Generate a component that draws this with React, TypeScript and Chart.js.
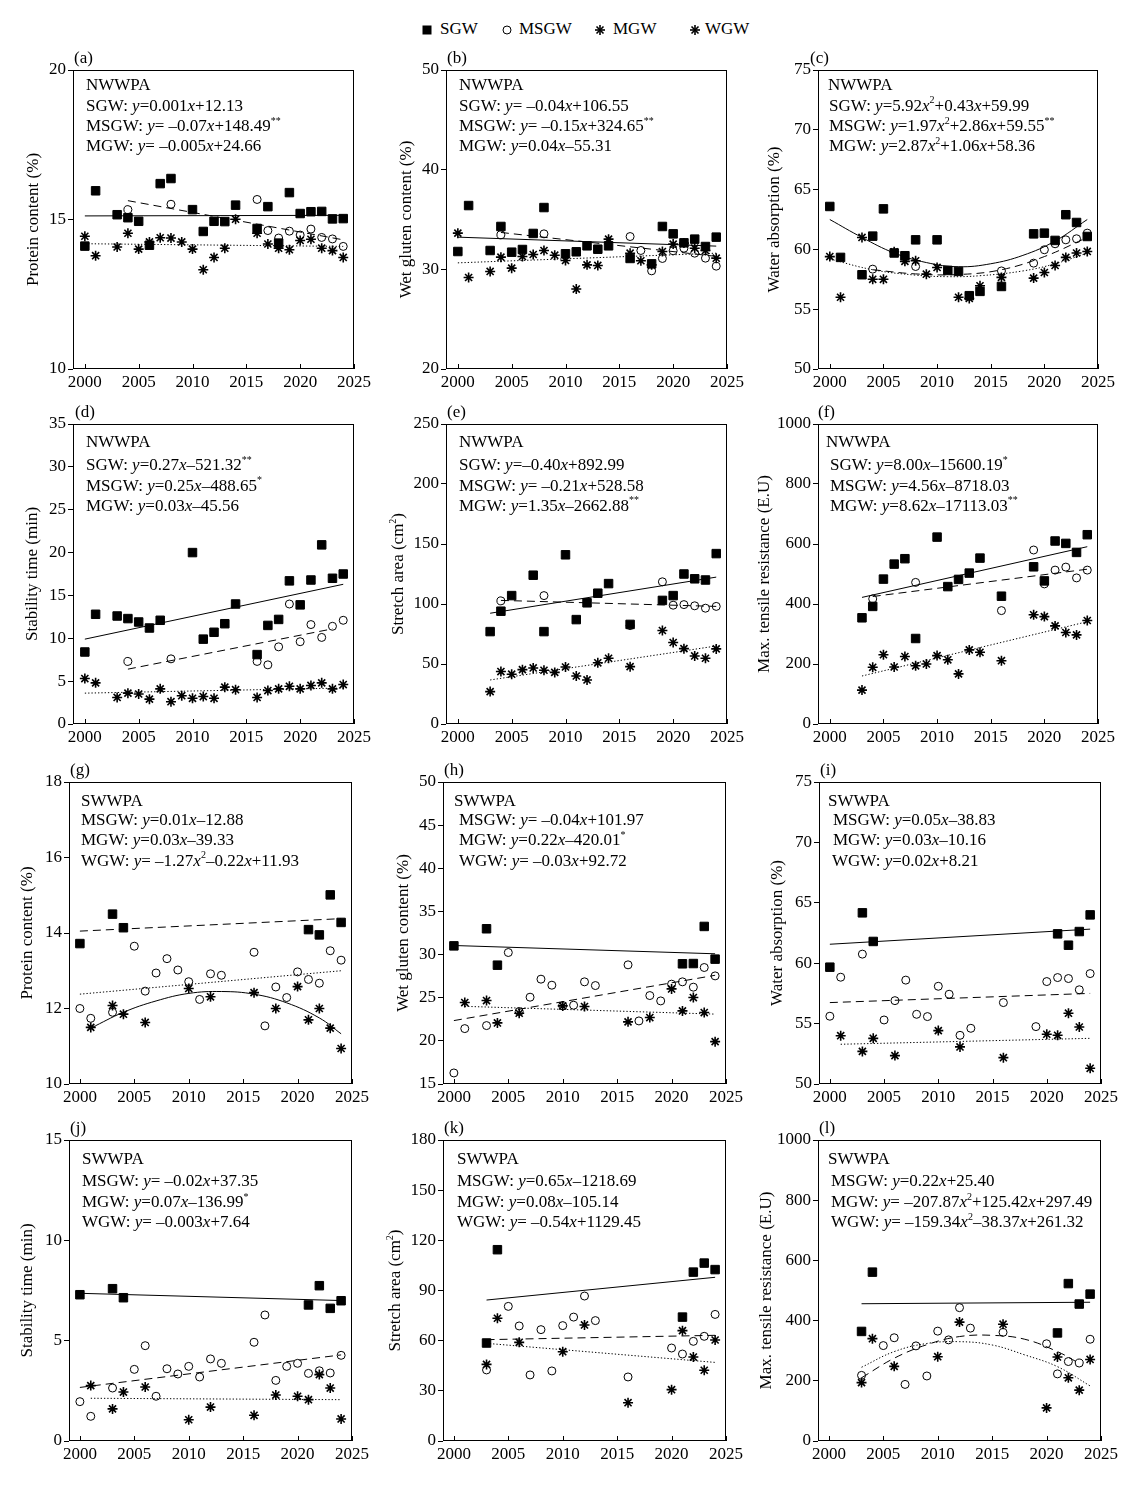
import React, { useEffect, useRef } from "react";
import { Chart, registerables } from "chart.js";
Chart.register(...registerables);

type Pt = [number, number];
const FONT = "'Liberation Serif', 'Times New Roman', Times, serif";
const FS = 17;

// ---------------- shared ticks / legend ----------------
const X_TICKS = [2000, 2005, 2010, 2015, 2020, 2025];
const LEGEND_LABELS = ["SGW", "MSGW", "MGW", "WGW"];

// ---------------- (a) protein, NWWPA ----------------
const A_SQ: Pt[] = [[2000,14.11],[2001,15.96],[2003,15.16],[2004,15.06],[2005,14.94],[2006,14.14],[2007,16.2],[2008,16.37],[2010,15.33],[2011,14.6],[2012,14.94],[2013,14.93],[2014,15.48],[2016,14.7],[2017,15.43],[2018,14.21],[2019,15.9],[2020,15.2],[2021,15.26],[2022,15.27],[2023,15.02],[2024,15.03]];
const A_CI: Pt[] = [[2004,15.33],[2008,15.51],[2016,15.67],[2017,14.63],[2018,14.38],[2019,14.61],[2020,14.48],[2021,14.68],[2022,14.4],[2023,14.35],[2024,14.1]];
const A_ST: Pt[] = [[2000,14.44],[2001,13.79],[2003,14.08],[2004,14.54],[2005,14.01],[2006,14.25],[2007,14.39],[2008,14.38],[2009,14.25],[2010,14.01],[2011,13.32],[2012,13.73],[2013,14.04],[2014,15.01],[2016,14.54],[2017,14.18],[2018,14.04],[2019,13.99],[2020,14.3],[2021,14.34],[2022,14.04],[2023,13.96],[2024,13.73]];
const A_SQ_FIT: Pt[] = [[2000,15.12],[2024,15.14]];
const A_CI_FIT: Pt[] = [[2004,15.63],[2024,14.32]];
const A_ST_FIT: Pt[] = [[2000,14.19],[2024,14.1]];
const A_YT = [10, 15, 20];

// ---------------- (b) wet gluten, NWWPA ----------------
const B_SQ: Pt[] = [[2000,31.79],[2001,36.4],[2003,31.89],[2004,34.3],[2005,31.72],[2006,31.99],[2007,33.6],[2008,36.2],[2010,31.56],[2011,31.76],[2012,32.36],[2013,32.02],[2014,32.36],[2016,31.09],[2018,30.55],[2019,34.3],[2020,33.56],[2021,32.66],[2022,33.03],[2023,32.29],[2024,33.23]];
const B_CI: Pt[] = [[2004,33.46],[2008,33.56],[2016,33.29],[2017,31.89],[2018,29.85],[2019,31.09],[2020,31.86],[2021,32.12],[2022,31.62],[2023,31.12],[2024,30.32]];
const B_ST: Pt[] = [[2000,33.63],[2001,29.18],[2003,29.79],[2004,31.22],[2005,30.12],[2006,31.29],[2007,31.49],[2008,31.89],[2009,31.42],[2010,30.89],[2011,28.02],[2012,30.45],[2013,30.39],[2014,33.03],[2016,31.62],[2017,30.86],[2018,30.45],[2019,31.79],[2020,32.53],[2021,32.63],[2022,32.12],[2023,31.89],[2024,31.12]];
const B_SQ_FIT: Pt[] = [[2000,33.23],[2024,32.33]];
const B_CI_FIT: Pt[] = [[2004,33.7],[2024,31.3]];
const B_ST_FIT: Pt[] = [[2000,30.65],[2024,31.62]];
const B_YT = [20, 30, 40, 50];

// ---------------- (c) water absorption, NWWPA ----------------
const C_SQ: Pt[] = [[2000,63.59],[2001,59.33],[2003,57.88],[2004,61.11],[2005,63.39],[2006,59.7],[2007,59.47],[2008,60.8],[2010,60.8],[2011,58.24],[2012,58.16],[2013,56.13],[2014,56.49],[2016,56.9],[2019,61.3],[2020,61.36],[2021,60.75],[2022,62.9],[2023,62.25],[2024,61.08]];
const C_CI: Pt[] = [[2004,58.35],[2008,58.57],[2016,58.2],[2019,58.85],[2020,59.97],[2021,60.47],[2022,60.8],[2023,60.89],[2024,61.36]];
const C_ST: Pt[] = [[2000,59.4],[2001,56.0],[2003,61.0],[2004,57.5],[2005,57.5],[2006,59.8],[2007,59.0],[2008,59.05],[2009,57.93],[2010,58.49],[2012,56.0],[2013,55.9],[2014,56.96],[2016,57.66],[2019,57.6],[2020,58.07],[2021,58.66],[2022,59.33],[2023,59.7],[2024,59.83]];
const C_SQ_FIT: Pt[] = [[2000,62.5],[2003,61.0],[2006,59.7],[2009,58.9],[2012,58.55],[2015,58.8],[2018,59.5],[2021,60.7],[2024,62.5]];
const C_CI_FIT: Pt[] = [[2004,58.3],[2008,57.95],[2012,57.9],[2016,58.3],[2020,59.4],[2024,61.0]];
const C_ST_FIT: Pt[] = [[2000,59.2],[2004,58.3],[2008,57.85],[2011,57.72],[2014,57.8],[2018,58.2],[2021,58.8],[2024,59.7]];
const C_YT = [50, 55, 60, 65, 70, 75];

// ---------------- (d) stability time, NWWPA ----------------
const D_SQ: Pt[] = [[2000,8.4],[2001,12.8],[2003,12.6],[2004,12.3],[2005,11.9],[2006,11.2],[2007,12.1],[2010,20.0],[2011,9.9],[2012,10.7],[2013,11.7],[2014,14.0],[2016,8.1],[2017,11.5],[2018,12.2],[2019,16.7],[2020,13.9],[2021,16.8],[2022,20.9],[2023,17.0],[2024,17.5]];
const D_CI: Pt[] = [[2004,7.3],[2008,7.6],[2016,7.3],[2017,6.9],[2018,9.0],[2019,14.0],[2020,9.6],[2021,11.6],[2022,10.1],[2023,11.4],[2024,12.1]];
const D_ST: Pt[] = [[2000,5.3],[2001,4.8],[2003,3.1],[2004,3.6],[2005,3.5],[2006,2.9],[2007,4.1],[2008,2.6],[2009,3.3],[2010,3.0],[2011,3.2],[2012,3.0],[2013,4.3],[2014,4.0],[2016,3.1],[2017,3.9],[2018,4.1],[2019,4.4],[2020,4.1],[2021,4.5],[2022,4.8],[2023,4.1],[2024,4.6]];
const D_SQ_FIT: Pt[] = [[2000,9.9],[2024,16.3]];
const D_CI_FIT: Pt[] = [[2004,6.4],[2023,11.1]];
const D_ST_FIT: Pt[] = [[2000,3.6],[2024,4.2]];
const D_YT = [0, 5, 10, 15, 20, 25, 30, 35];

// ---------------- (e) stretch area, NWWPA ----------------
const E_SQ: Pt[] = [[2003,77],[2004,94],[2005,107],[2007,124],[2008,77],[2010,141],[2011,87],[2012,101],[2013,109],[2014,117],[2016,83],[2019,103],[2020,107],[2021,125],[2022,121],[2023,120],[2024,142]];
const E_CI: Pt[] = [[2004,102.6],[2008,107],[2016,82],[2019,118.5],[2020,99],[2021,99.5],[2022,98.5],[2023,96.5],[2024,98]];
const E_ST: Pt[] = [[2003,27],[2004,43.7],[2005,41.5],[2006,45.3],[2007,46.7],[2008,44.8],[2009,43],[2010,47.5],[2011,40],[2012,36.7],[2013,51],[2014,54.8],[2016,47.8],[2019,77.9],[2020,67.9],[2021,62.8],[2022,56.7],[2023,54.8],[2024,62.6]];
const E_SQ_FIT: Pt[] = [[2003,92.3],[2024,122.4]];
const E_CI_FIT: Pt[] = [[2004,103],[2024,98]];
const E_ST_FIT: Pt[] = [[2003,36.7],[2024,65]];
const E_YT = [0, 50, 100, 150, 200, 250];

// ---------------- (f) max tensile resistance, NWWPA ----------------
const F_SQ: Pt[] = [[2003,354],[2004,392],[2005,483],[2006,533],[2007,551],[2008,285],[2010,623],[2011,458],[2012,482],[2013,503],[2014,553],[2016,426],[2019,524],[2020,477],[2021,610],[2022,602],[2023,572],[2024,631]];
const F_CI: Pt[] = [[2004,417],[2008,472],[2016,378],[2019,580],[2020,467],[2021,513],[2022,523],[2023,487],[2024,513]];
const F_ST: Pt[] = [[2003,113],[2004,189],[2005,231],[2006,190],[2007,225],[2008,194],[2009,200],[2010,228],[2011,214],[2012,167],[2013,247],[2014,239],[2016,211],[2019,364],[2020,358],[2021,327],[2022,305],[2023,297],[2024,345]];
const F_SQ_FIT: Pt[] = [[2003,422],[2024,591]];
const F_CI_FIT: Pt[] = [[2004,425],[2024,516]];
const F_ST_FIT: Pt[] = [[2003,160],[2024,341]];
const F_YT = [0, 200, 400, 600, 800, 1000];

// ---------------- (g) protein, SWWPA ----------------
const G_SQ: Pt[] = [[2000,13.72],[2003,14.5],[2004,14.14],[2021,14.09],[2022,13.95],[2023,15.01],[2024,14.28]];
const G_CI: Pt[] = [[2000,12.0],[2001,11.74],[2003,11.9],[2005,13.65],[2006,12.46],[2007,12.94],[2008,13.32],[2009,13.02],[2010,12.71],[2011,12.24],[2012,12.92],[2013,12.88],[2016,13.49],[2017,11.54],[2018,12.57],[2019,12.29],[2020,12.97],[2021,12.77],[2022,12.67],[2023,13.53],[2024,13.28]];
const G_ST: Pt[] = [[2001,11.5],[2003,12.08],[2004,11.85],[2006,11.63],[2010,12.53],[2012,12.31],[2016,12.42],[2018,12.0],[2020,12.58],[2021,11.7],[2022,12.0],[2023,11.48],[2024,10.94]];
const G_SQ_FIT: Pt[] = [[2000,14.05],[2024,14.38]];
const G_CI_FIT: Pt[] = [[2000,12.38],[2024,13.0]];
const G_ST_FIT: Pt[] = [[2001,11.48],[2004,11.9],[2007,12.2],[2010,12.4],[2013,12.45],[2016,12.38],[2019,12.15],[2022,11.75],[2024,11.33]];
const G_YT = [10, 12, 14, 16, 18];

// ---------------- (h) wet gluten, SWWPA ----------------
const H_SQ: Pt[] = [[2000,31.01],[2003,32.99],[2004,28.77],[2021,28.93],[2022,28.96],[2023,33.26],[2024,29.47]];
const H_CI: Pt[] = [[2000,16.28],[2001,21.42],[2003,21.77],[2005,30.24],[2006,23.4],[2007,25.06],[2008,27.15],[2009,26.45],[2010,24.05],[2011,24.13],[2012,26.84],[2013,26.41],[2016,28.81],[2017,22.31],[2018,25.25],[2019,24.63],[2020,26.57],[2021,26.84],[2022,26.22],[2023,28.5],[2024,27.53]];
const H_ST: Pt[] = [[2001,24.44],[2003,24.67],[2004,22.08],[2006,23.2],[2010,24.05],[2012,23.98],[2016,22.2],[2018,22.7],[2020,26.02],[2021,23.47],[2022,25.02],[2023,23.28],[2024,19.91]];
const H_SQ_FIT: Pt[] = [[2000,31.05],[2024,30.09]];
const H_CI_FIT: Pt[] = [[2000,22.35],[2024,27.6]];
const H_ST_FIT: Pt[] = [[2001,24.0],[2024,23.1]];
const H_YT = [15, 20, 25, 30, 35, 40, 45, 50];

// ---------------- (i) water absorption, SWWPA ----------------
const I_SQ: Pt[] = [[2000,59.67],[2003,64.17],[2004,61.8],[2021,62.43],[2022,61.49],[2023,62.62],[2024,64.0]];
const I_CI: Pt[] = [[2000,55.61],[2001,58.84],[2003,60.75],[2005,55.3],[2006,56.9],[2007,58.6],[2008,55.77],[2009,55.58],[2010,58.09],[2011,57.43],[2012,54.03],[2013,54.61],[2016,56.74],[2019,54.75],[2020,58.48],[2021,58.81],[2022,58.73],[2023,57.8],[2024,59.14]];
const I_ST: Pt[] = [[2001,54.0],[2003,52.7],[2004,53.78],[2006,52.35],[2010,54.42],[2012,53.07],[2016,52.18],[2020,54.12],[2021,54.03],[2022,55.86],[2023,54.72],[2024,51.3]];
const I_SQ_FIT: Pt[] = [[2000,61.57],[2024,62.82]];
const I_CI_FIT: Pt[] = [[2000,56.74],[2024,57.5]];
const I_ST_FIT: Pt[] = [[2001,53.29],[2024,53.78]];
const I_YT = [50, 55, 60, 65, 70, 75];

// ---------------- (j) stability time, SWWPA ----------------
const J_SQ: Pt[] = [[2000,7.29],[2003,7.59],[2004,7.14],[2021,6.78],[2022,7.74],[2023,6.61],[2024,6.99]];
const J_CI: Pt[] = [[2000,1.96],[2001,1.23],[2003,2.64],[2005,3.57],[2006,4.75],[2007,2.23],[2008,3.6],[2009,3.34],[2010,3.72],[2011,3.19],[2012,4.09],[2013,3.87],[2016,4.92],[2017,6.28],[2018,3.02],[2019,3.72],[2020,3.87],[2021,3.37],[2022,3.5],[2023,3.39],[2024,4.27]];
const J_ST: Pt[] = [[2001,2.76],[2003,1.6],[2004,2.44],[2006,2.69],[2010,1.06],[2012,1.69],[2016,1.28],[2018,2.29],[2020,2.23],[2021,2.06],[2022,3.31],[2023,2.64],[2024,1.1]];
const J_SQ_FIT: Pt[] = [[2000,7.36],[2024,7.0]];
const J_CI_FIT: Pt[] = [[2000,2.67],[2024,4.29]];
const J_ST_FIT: Pt[] = [[2001,2.13],[2024,2.06]];
const J_YT = [0, 5, 10, 15];

// ---------------- (k) stretch area, SWWPA ----------------
const K_SQ: Pt[] = [[2003,58.6],[2004,114.4],[2021,74.1],[2022,101],[2023,106.4],[2024,102.5]];
const K_CI: Pt[] = [[2003,42.5],[2005,80.5],[2006,68.8],[2007,39.5],[2008,66.6],[2009,41.9],[2010,69],[2011,74.1],[2012,86.7],[2013,72],[2016,38.3],[2020,55.6],[2021,52],[2022,59.6],[2023,62.6],[2024,75.7]];
const K_ST: Pt[] = [[2003,45.8],[2004,73.4],[2006,59],[2010,53.4],[2012,69.4],[2016,22.9],[2020,30.7],[2021,66],[2022,50.2],[2023,42.3],[2024,60.4]];
const K_SQ_FIT: Pt[] = [[2003,84.3],[2024,97.9]];
const K_CI_FIT: Pt[] = [[2003,60.6],[2024,63.2]];
const K_ST_FIT: Pt[] = [[2003,58.4],[2024,47]];
const K_YT = [0, 30, 60, 90, 120, 150, 180];

// ---------------- (l) max tensile resistance, SWWPA ----------------
const L_SQ: Pt[] = [[2003,364],[2004,561],[2021,359],[2022,523],[2023,455],[2024,488]];
const L_CI: Pt[] = [[2003,218],[2005,317],[2006,343],[2007,188],[2008,316],[2009,216],[2010,365],[2011,336],[2012,443],[2013,375],[2016,361],[2020,323],[2021,223],[2022,264],[2023,259],[2024,338]];
const L_ST: Pt[] = [[2003,194],[2004,340],[2006,248],[2010,280],[2012,395],[2016,388],[2020,110],[2021,279],[2022,210],[2023,169],[2024,271]];
const L_SQ_FIT: Pt[] = [[2003,456],[2024,461]];
const L_CI_FIT: Pt[] = [[2003,210],[2006,275],[2009,320],[2012,347],[2015,351],[2018,338],[2021,297],[2023,258]];
const L_ST_FIT: Pt[] = [[2003,245],[2006,297],[2009,324],[2012,330],[2015,319],[2018,286],[2021,247],[2024,183]];
const L_YT = [0, 200, 400, 600, 800, 1000];

// ---------------- texts ----------------
const Y_TITLES = ["Protein content (%)", "Wet gluten content (%)", "Water absorption (%)", "Stability time (min)", "Stretch area (cm{2})", "Max. tensile resistance (E.U)"];
const TXT_A = ["NWWPA", "SGW: [y]=0.001[x]+12.13", "MSGW: [y]= \u20130.07[x]+148.49{**}", "MGW: [y]= \u20130.005[x]+24.66"];
const TXT_B = ["NWWPA", "SGW: [y]= \u20130.04[x]+106.55", "MSGW: [y]= \u20130.15[x]+324.65{**}", "MGW: [y]=0.04[x]\u201355.31"];
const TXT_C = ["NWWPA", "SGW: [y]=5.92[x]{2}+0.43[x]+59.99", "MSGW: [y]=1.97[x]{2}+2.86[x]+59.55{**}", "MGW: [y]=2.87[x]{2}+1.06[x]+58.36"];
const TXT_D = ["NWWPA", "SGW: [y]=0.27[x]\u2013521.32{**}", "MSGW: [y]=0.25[x]\u2013488.65{*}", "MGW: [y]=0.03[x]\u201345.56"];
const TXT_E = ["NWWPA", "SGW: [y]=\u20130.40[x]+892.99", "MSGW: [y]= \u20130.21[x]+528.58", "MGW: [y]=1.35[x]\u20132662.88{**}"];
const TXT_F = ["NWWPA", "SGW: [y]=8.00[x]\u201315600.19{*}", "MSGW: [y]=4.56[x]\u20138718.03", "MGW: [y]=8.62[x]\u201317113.03{**}"];
const TXT_G = ["SWWPA", "MSGW: [y]=0.01[x]\u201312.88", "MGW: [y]=0.03[x]\u201339.33", "WGW: [y]= \u20131.27[x]{2}\u20130.22[x]+11.93"];
const TXT_H = ["SWWPA", "MSGW: [y]= \u20130.04[x]+101.97", "MGW: [y]=0.22[x]\u2013420.01{*}", "WGW: [y]= \u20130.03[x]+92.72"];
const TXT_I = ["SWWPA", "MSGW: [y]=0.05[x]\u201338.83", "MGW: [y]=0.03[x]\u201310.16", "WGW: [y]=0.02[x]+8.21"];
const TXT_J = ["SWWPA", "MSGW: [y]= \u20130.02[x]+37.35", "MGW: [y]=0.07[x]\u2013136.99{*}", "WGW: [y]= \u20130.003[x]+7.64"];
const TXT_K = ["SWWPA", "MSGW: [y]=0.65[x]\u20131218.69", "MGW: [y]=0.08[x]\u2013105.14", "WGW: [y]= \u20130.54[x]+1129.45"];
const TXT_L = ["SWWPA", "MSGW: [y]=0.22[x]+25.40", "MGW: [y]= \u2013207.87[x]{2}+125.42[x]+297.49", "WGW: [y]= \u2013159.34[x]{2}\u201338.37[x]+261.32"];

// ---------------- layout / styles ----------------
type Marker = "sq" | "ci" | "st";
type LineKind = "solid" | "dash" | "dot";
interface Series { marker: Marker; pts: Pt[]; fit: Pt[]; line: LineKind; curve?: boolean; }
interface PanelCfg {
  label: string; left: number; top: number; w: number; h: number;
  xMin: number; xMax: number; yMin: number; yMax: number; yTicks: number[];
  yTitle: string; titleOff: number; labelDx: number;
  text: string[]; textX: number[]; textY: number[];
  series: Series[];
}

const Y_AXIS_W = 72;
const PAD_T = 30;
const PAD_R = 22;
const X_AXIS_H = 36;

const TY1 = [16, 36.5, 57, 77];
const TY2 = [19, 42, 62.5, 82.5];
const TY3 = [19.5, 39, 59, 79.5];
const TY4 = [20, 42, 63, 83];

function s3(sq: Pt[], sqf: Pt[], sqL: LineKind, ci: Pt[], cif: Pt[], ciL: LineKind, st: Pt[], stf: Pt[], stL: LineKind, curves: [boolean, boolean, boolean] = [false, false, false]): Series[] {
  return [
    { marker: "sq", pts: sq, fit: sqf, line: sqL, curve: curves[0] },
    { marker: "ci", pts: ci, fit: cif, line: ciL, curve: curves[1] },
    { marker: "st", pts: st, fit: stf, line: stL, curve: curves[2] },
  ];
}

const R12 = { xMin: 1998.9, xMax: 2025 };
const R34 = { xMin: 1999.0, xMax: 2025 };

const PANELS: PanelCfg[] = [
  { label: "(a)", left: 73, top: 70, w: 281, h: 299, ...R12, yMin: 10, yMax: 20, yTicks: A_YT, yTitle: Y_TITLES[0], titleOff: 39, labelDx: 1, text: TXT_A, textX: [13, 13, 13, 13], textY: TY1, series: s3(A_SQ, A_SQ_FIT, "solid", A_CI, A_CI_FIT, "dash", A_ST, A_ST_FIT, "dot") },
  { label: "(b)", left: 446, top: 70, w: 281, h: 299, ...R12, yMin: 20, yMax: 50, yTicks: B_YT, yTitle: Y_TITLES[1], titleOff: 39, labelDx: 1, text: TXT_B, textX: [13, 13, 13, 13], textY: TY1, series: s3(B_SQ, B_SQ_FIT, "solid", B_CI, B_CI_FIT, "dash", B_ST, B_ST_FIT, "dot") },
  { label: "(c)", left: 818, top: 70, w: 280, h: 299, ...R12, yMin: 50, yMax: 75, yTicks: C_YT, yTitle: Y_TITLES[2], titleOff: 43, labelDx: -8, text: TXT_C, textX: [10, 11, 11, 11], textY: TY1, series: s3(C_SQ, C_SQ_FIT, "solid", C_CI, C_CI_FIT, "dash", C_ST, C_ST_FIT, "dot", [true, true, true]) },
  { label: "(d)", left: 73, top: 424, w: 281, h: 300, ...R12, yMin: 0, yMax: 35, yTicks: D_YT, yTitle: Y_TITLES[3], titleOff: 40, labelDx: 2, text: TXT_D, textX: [13, 13, 13, 13], textY: TY2, series: s3(D_SQ, D_SQ_FIT, "solid", D_CI, D_CI_FIT, "dash", D_ST, D_ST_FIT, "dot") },
  { label: "(e)", left: 446, top: 424, w: 281, h: 300, ...R12, yMin: 0, yMax: 250, yTicks: E_YT, yTitle: Y_TITLES[4], titleOff: 47, labelDx: 1, text: TXT_E, textX: [13, 13, 13, 13], textY: TY2, series: s3(E_SQ, E_SQ_FIT, "solid", E_CI, E_CI_FIT, "dash", E_ST, E_ST_FIT, "dot") },
  { label: "(f)", left: 818, top: 424, w: 280, h: 300, ...R12, yMin: 0, yMax: 1000, yTicks: F_YT, yTitle: Y_TITLES[5], titleOff: 53, labelDx: 0, text: TXT_F, textX: [8, 12, 12, 12], textY: TY2, series: s3(F_SQ, F_SQ_FIT, "solid", F_CI, F_CI_FIT, "dash", F_ST, F_ST_FIT, "dot") },
  { label: "(g)", left: 69, top: 782, w: 283, h: 302, ...R34, yMin: 10, yMax: 18, yTicks: G_YT, yTitle: Y_TITLES[0], titleOff: 41, labelDx: 1, text: TXT_G, textX: [12, 12, 12, 12], textY: TY3, series: s3(G_SQ, G_SQ_FIT, "dash", G_CI, G_CI_FIT, "dot", G_ST, G_ST_FIT, "solid", [false, false, true]) },
  { label: "(h)", left: 443, top: 782, w: 283, h: 302, ...R34, yMin: 15, yMax: 50, yTicks: H_YT, yTitle: Y_TITLES[1], titleOff: 39, labelDx: 1, text: TXT_H, textX: [11, 16, 16, 16], textY: TY3, series: s3(H_SQ, H_SQ_FIT, "solid", H_CI, H_CI_FIT, "dash", H_ST, H_ST_FIT, "dot") },
  { label: "(i)", left: 819, top: 782, w: 282, h: 302, ...R34, yMin: 50, yMax: 75, yTicks: I_YT, yTitle: Y_TITLES[2], titleOff: 41, labelDx: 1, text: TXT_I, textX: [9, 14, 14, 13], textY: TY3, series: s3(I_SQ, I_SQ_FIT, "solid", I_CI, I_CI_FIT, "dash", I_ST, I_ST_FIT, "dot") },
  { label: "(j)", left: 69, top: 1140, w: 283, h: 301, ...R34, yMin: 0, yMax: 15, yTicks: J_YT, yTitle: Y_TITLES[3], titleOff: 41, labelDx: 1, text: TXT_J, textX: [13, 13, 13, 13], textY: TY4, series: s3(J_SQ, J_SQ_FIT, "solid", J_CI, J_CI_FIT, "dash", J_ST, J_ST_FIT, "dot") },
  { label: "(k)", left: 443, top: 1140, w: 283, h: 301, ...R34, yMin: 0, yMax: 180, yTicks: K_YT, yTitle: Y_TITLES[4], titleOff: 47, labelDx: 1, text: TXT_K, textX: [14, 14, 14, 14], textY: TY4, series: s3(K_SQ, K_SQ_FIT, "solid", K_CI, K_CI_FIT, "dash", K_ST, K_ST_FIT, "dot") },
  { label: "(l)", left: 818, top: 1140, w: 283, h: 301, ...R34, yMin: 0, yMax: 1000, yTicks: L_YT, yTitle: Y_TITLES[5], titleOff: 51, labelDx: 1, text: TXT_L, textX: [10, 13, 13, 13], textY: TY4, series: s3(L_SQ, L_SQ_FIT, "solid", L_CI, L_CI_FIT, "dash", L_ST, L_ST_FIT, "dot", [false, true, true]) },
];

// ---------------- rich text ----------------
type Seg = { t: string; st: "n" | "i" | "s" };
function parseRich(s: string): Seg[] {
  const out: Seg[] = [];
  let buf = "";
  let i = 0;
  while (i < s.length) {
    const c = s[i];
    if (c === "[" || c === "{") {
      if (buf) out.push({ t: buf, st: "n" });
      buf = "";
      const close = c === "[" ? "]" : "}";
      const j = s.indexOf(close, i);
      out.push({ t: s.slice(i + 1, j), st: c === "[" ? "i" : "s" });
      i = j + 1;
    } else {
      buf += c;
      i++;
    }
  }
  if (buf) out.push({ t: buf, st: "n" });
  return out;
}
function segFont(st: string, size: number) {
  if (st === "s") return `${Math.round(size * 0.6)}px ${FONT}`;
  return `${st === "i" ? "italic " : ""}${size}px ${FONT}`;
}
function measureRich(ctx: CanvasRenderingContext2D, s: string, size: number) {
  let w = 0;
  for (const seg of parseRich(s)) {
    ctx.font = segFont(seg.st, size);
    w += ctx.measureText(seg.t).width;
  }
  return w;
}
function drawRich(ctx: CanvasRenderingContext2D, s: string, x: number, y: number, size: number) {
  ctx.textBaseline = "middle";
  ctx.textAlign = "left";
  let cx = x;
  for (const seg of parseRich(s)) {
    ctx.font = segFont(seg.st, size);
    ctx.fillText(seg.t, cx, seg.st === "s" ? y - size * 0.36 : y);
    cx += ctx.measureText(seg.t).width;
  }
}

function makeDecor(p: PanelCfg) {
  return {
    id: "decor",
    afterDraw(chart: any) {
      const { ctx, chartArea: a, scales } = chart;
      ctx.save();
      ctx.strokeStyle = "#000";
      ctx.lineWidth = 1;
      ctx.setLineDash([]);
      ctx.strokeRect(a.left + 0.5, a.top + 0.5, a.right - a.left - 1, a.bottom - a.top - 1);
      ctx.beginPath();
      for (const v of X_TICKS) {
        const x = Math.round(scales.x.getPixelForValue(v)) + 0.5;
        ctx.moveTo(x, a.bottom);
        ctx.lineTo(x, a.bottom - 5);
      }
      ctx.stroke();
      ctx.fillStyle = "#000";
      ctx.font = `${FS}px ${FONT}`;
      ctx.textBaseline = "middle";
      ctx.textAlign = "left";
      ctx.fillText(p.label, a.left + p.labelDx, a.top - 11);
      // y title
      ctx.save();
      ctx.translate(a.left - p.titleOff, (a.top + a.bottom) / 2);
      ctx.rotate(-Math.PI / 2);
      const tw = measureRich(ctx, p.yTitle, FS);
      drawRich(ctx, p.yTitle, -tw / 2, 0, FS);
      ctx.restore();
      p.text.forEach((t, i) => drawRich(ctx, t, a.left + p.textX[i], a.top + p.textY[i], FS));
      ctx.restore();
    },
  };
}

const DASH: Record<LineKind, number[]> = { solid: [], dash: [8, 5], dot: [1.3, 2] };

function buildDatasets(p: PanelCfg) {
  const ds: any[] = [];
  p.series.forEach((s) => {
    ds.push({
      type: "line",
      data: s.fit.map(([x, y]) => ({ x, y })),
      borderColor: "#000",
      borderWidth: 1,
      borderDash: DASH[s.line],
      pointRadius: 0,
      pointHoverRadius: 0,
      tension: s.curve ? 0.4 : 0,
      fill: false,
      order: 2,
    });
  });
  p.series.forEach((s) => {
    const style = s.marker === "sq" ? "rect" : s.marker === "ci" ? "circle" : "star";
    ds.push({
      type: "scatter",
      data: s.pts.map(([x, y]) => ({ x, y })),
      pointStyle: style,
      pointRadius: s.marker === "sq" ? 6 : s.marker === "ci" ? 4 : 5,
      pointHoverRadius: s.marker === "sq" ? 6 : s.marker === "ci" ? 4 : 5,
      pointBorderWidth: s.marker === "st" ? 1.6 : 1,
      pointBorderColor: "#000",
      pointBackgroundColor: s.marker === "sq" ? "#000" : "rgba(0,0,0,0)",
      showLine: false,
      order: 1,
    });
  });
  return ds;
}

function PanelChart({ p }: { p: PanelCfg }) {
  const ref = useRef<HTMLCanvasElement>(null);
  const cw = Y_AXIS_W + p.w + PAD_R;
  const ch = PAD_T + p.h + X_AXIS_H;
  useEffect(() => {
    const canvas = ref.current;
    if (!canvas) return;
    const tickFont = { family: FONT, size: FS };
    const chart = new Chart(canvas, {
      type: "scatter",
      data: { datasets: buildDatasets(p) },
      options: {
        animation: false,
        responsive: false,
        events: [],
        layout: { padding: { top: PAD_T, right: PAD_R, left: 0, bottom: 0 } },
        plugins: { legend: { display: false }, tooltip: { enabled: false }, title: { display: false } },
        scales: {
          x: {
            type: "linear",
            min: p.xMin,
            max: p.xMax,
            afterBuildTicks: (ax: any) => { ax.ticks = X_TICKS.map((v) => ({ value: v })); },
            afterFit: (ax: any) => { ax.height = X_AXIS_H; },
            grid: { display: false, drawTicks: false, tickLength: 0 },
            border: { display: false },
            ticks: { color: "#000", font: tickFont, padding: 3, maxRotation: 0, autoSkip: false, callback: (v: any) => String(v) },
          },
          y: {
            type: "linear",
            min: p.yMin,
            max: p.yMax,
            afterBuildTicks: (ax: any) => { ax.ticks = p.yTicks.map((v) => ({ value: v })); },
            afterFit: (ax: any) => { ax.width = Y_AXIS_W; },
            grid: { display: true, drawOnChartArea: false, drawTicks: true, tickLength: 5, color: "#000", lineWidth: 1 },
            border: { display: false },
            ticks: { color: "#000", font: tickFont, padding: 2, autoSkip: false, callback: (v: any) => String(v) },
          },
        },
      } as any,
      plugins: [makeDecor(p)],
    } as any);
    return () => chart.destroy();
  }, [p]);
  return (
    <canvas
      ref={ref}
      width={cw}
      height={ch}
      style={{ position: "absolute", left: p.left - Y_AXIS_W, top: p.top - PAD_T, width: cw, height: ch }}
    />
  );
}

// ---------------- legend ----------------
const LEG_MARK: Marker[] = ["sq", "ci", "st", "st"];
const LEG_SYM_X = [427, 507, 600, 695];
const LEG_TXT_X = [440, 519, 613, 705];
const LEG_Y = 30;

function Symbol({ m }: { m: Marker }) {
  if (m === "sq") return <rect x={1.5} y={1.5} width={9} height={9} fill="#000" />;
  if (m === "ci") return <circle cx={6} cy={6} r={4} fill="none" stroke="#000" strokeWidth={1} />;
  return (
    <g stroke="#000" strokeWidth={1.6}>
      <line x1={1} y1={6} x2={11} y2={6} />
      <line x1={6} y1={1} x2={6} y2={11} />
      <line x1={2.5} y1={2.5} x2={9.5} y2={9.5} />
      <line x1={9.5} y1={2.5} x2={2.5} y2={9.5} />
    </g>
  );
}

function Legend() {
  return (
    <>
      {LEGEND_LABELS.map((lab, i) => (
        <React.Fragment key={lab}>
          <svg width={12} height={12} style={{ position: "absolute", left: LEG_SYM_X[i] - 6, top: LEG_Y - 6 }}>
            <Symbol m={LEG_MARK[i]} />
          </svg>
          <span style={{ position: "absolute", left: LEG_TXT_X[i], top: LEG_Y - 11, lineHeight: "20px", fontSize: FS, fontFamily: FONT, whiteSpace: "nowrap", color: "#000" }}>
            {lab}
          </span>
        </React.Fragment>
      ))}
    </>
  );
}

export default function App() {
  return (
    <div style={{ position: "absolute", left: 0, top: 0, width: 1137, height: 1488, background: "#fff", overflow: "hidden" }}>
      <Legend />
      {PANELS.map((p) => (
        <PanelChart key={p.label} p={p} />
      ))}
    </div>
  );
}
